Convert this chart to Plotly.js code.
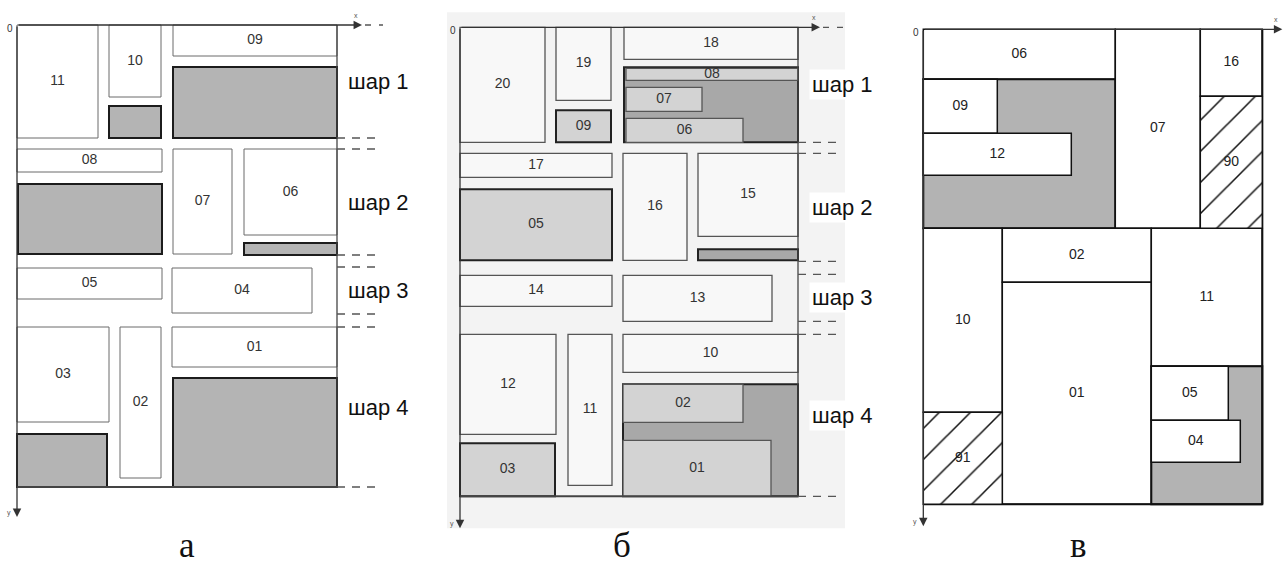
<!DOCTYPE html>
<html>
<head>
<meta charset="utf-8">
<script src="https://cdn.plot.ly/plotly-3.0.1.min.js"></script>
<style>
html,body{margin:0;padding:0;background:#fff;}
#plot{width:1288px;height:566px;}
</style>
</head>
<body>
<div id="plot"></div>
<script>
// ===== Panel а : blocks (diagram units, origin top-left, y downwards) =====
const aLabels = ['11','10','','09','','08','','07','06','','05','04','03','02','01','',''];
const aX0 = [0,92,92,156,156,0,1,156,227,227,0,155,0,103,155,156,0];
const aX1 = [81,144,144,320,320,145,145,215,320,320,145,295,92,144,320,320,90];
const aY0 = [0,0,81,0,42,124,159,124,124,218,243,243,302,302,302,353,409];
const aY1 = [113,72,113,31,113,147,229,229,210,230,274,288,397,453,342,462,462];
const aKind = ['w','w','g','w','g','w','g','w','w','g','w','w','w','w','w','g','g'];
const aLayerTop = [0,124,242,302];
const aLayerBottom = [113,230,289,462];
const aLayerNames = ['шар 1','шар 2','шар 3','шар 4'];

// ===== Panel б =====
const bLabels = ['20','19','09','18','','08','07','06','17','05','16','15','','14','13','12','11','10','','02','01','03'];
const bX0 = [0,96,96,164,164,166,166,166,0,0,163,238,238,0,163,0,108,163,163,163,163,0];
const bX1 = [85,151,151,338,338,338,242,283,152,152,227,338,338,152,312,96,152,338,338,283,311,95];
const bY0 = [0,0,83,0,40,41,60,91,126,162,126,126,222,248,248,307,307,307,357,357,413,416];
const bY1 = [115,73,115,32,115,53,84,115,150,233,233,209,233,279,294,407,458,345,469,395,469,469];
const bKind = ['w','w','L','w','d','l','l','l','w','L','w','w','d','w','w','w','w','w','d','l','l','L'];
const bLayerTop = [0,126,247,307];
const bLayerBottom = [115,234,294,469];
const bLayerNames = ['шар 1','шар 2','шар 3','шар 4'];

// ===== Panel в =====
const cLabels = ['06','','09','12','07','16','90','10','91','02','01','11','','05','04'];
const cX0 = [0,0,0,0,192,277,277,0,0,79,79,228,228,228,228];
const cX1 = [192,192,74,148,277,339,339,79,79,228,228,339,339,305,317];
const cY0 = [0,50,50,104,0,0,67,199,383,199,253,199,337,337,391];
const cY1 = [50,199,104,146,199,67,199,383,475,253,475,337,475,391,433];
const cKind = ['w','g','w','w','w','w','h','w','h','w','w','w','g','w','w'];

const captions = ['а','б','в'];

// ===== layout / styling (not data) =====
const W = 1288, H = 566;
const panels = [
  {labels:aLabels,x0:aX0,x1:aX1,y0:aY0,y1:aY1,kind:aKind,
   layerTop:aLayerTop,layerBottom:aLayerBottom,layerNames:aLayerNames,
   origin:[17,25], region:[0,425], frameW:320, frameH:462,
   xArrow:345, yArrow:492, axisDash:[348,366], sideDash:[320,358], layerLabelX:328,
   bg:null, labelBg:'rgba(0,0,0,0)', captionX:170, txt:'#333',
   styles:{w:{fill:'rgba(0,0,0,0)',line:'#6a6a6a',width:1},g:{fill:'#b4b4b4',line:'#1c1c1c',width:2}}},
  {labels:bLabels,x0:bX0,x1:bX1,y0:bY0,y1:bY1,kind:bKind,
   layerTop:bLayerTop,layerBottom:bLayerBottom,layerNames:bLayerNames,
   origin:[460,27.3], region:[425,885], frameW:338, frameH:469,
   xArrow:360, yArrow:501, axisDash:[363,385], sideDash:[338,378], layerLabelX:349,
   bg:[-13,385,-15,501], labelBg:'#ffffff', captionX:162, txt:'#333',
   styles:{w:{fill:'#f8f8f8',line:'#555',width:1.3},l:{fill:'#d3d3d3',line:'#555',width:1.3},
           L:{fill:'#d3d3d3',line:'#222',width:2},d:{fill:'#a8a8a8',line:'#222',width:2}}},
  {labels:cLabels,x0:cX0,x1:cX1,y0:cY0,y1:cY1,kind:cKind,
   layerTop:[],layerBottom:[],layerNames:[],
   origin:[923.3,29.3], region:[885,1288], frameW:339, frameH:475,
   xArrow:359, yArrow:497, axisDash:null, sideDash:null, layerLabelX:0,
   bg:null, labelBg:'rgba(0,0,0,0)', captionX:155, txt:'#222',
   styles:{w:{fill:'#ffffff',line:'#111',width:1.5},g:{fill:'#b3b3b3',line:'#111',width:2},
           h:{fill:'#ffffff',line:'#111',width:1.5}}}
];

const traces = [], shapes = [], annotations = [];
const layout = {
  width:W, height:H, margin:{l:0,r:0,t:0,b:0},
  paper_bgcolor:'#ffffff', plot_bgcolor:'rgba(0,0,0,0)',
  showlegend:false, barmode:'overlay', hovermode:false,
  font:{family:'Liberation Sans, Arial, sans-serif'}
};

panels.forEach((p, i) => {
  const sfx = i === 0 ? '' : String(i+1);
  const xr = 'x'+sfx, yr = 'y'+sfx;
  layout['xaxis'+sfx] = {domain:[p.region[0]/W, p.region[1]/W],
    range:[p.region[0]-p.origin[0], p.region[1]-p.origin[0]],
    visible:false, fixedrange:true, anchor:yr};
  layout['yaxis'+sfx] = {domain:[0,1], range:[H-p.origin[1], -p.origin[1]],
    visible:false, fixedrange:true, anchor:xr};

  if (p.bg) {
    shapes.push({type:'rect', xref:xr, yref:yr, x0:p.bg[0], x1:p.bg[1], y0:p.bg[2], y1:p.bg[3],
      fillcolor:'#f3f3f3', line:{width:0}, layer:'below'});
  }
  // blocks
  const tx = [], ty = [], tt = [];
  p.labels.forEach((lab, k) => {
    const st = p.styles[p.kind[k]];
    if (p.kind[k] === 'h') {
      traces.push({type:'bar', xaxis:xr, yaxis:yr,
        x:[(p.x0[k]+p.x1[k])/2], y:[p.y1[k]-p.y0[k]], base:[p.y0[k]], width:[p.x1[k]-p.x0[k]],
        marker:{color:'#ffffff', line:{color:st.line, width:st.width},
          pattern:{shape:'/', size:22, solidity:0.07, fgcolor:'#111', bgcolor:'#ffffff', fillmode:'replace'}},
        hoverinfo:'skip'});
    } else {
      shapes.push({type:'rect', xref:xr, yref:yr, x0:p.x0[k], x1:p.x1[k], y0:p.y0[k], y1:p.y1[k],
        fillcolor:st.fill, line:{color:st.line, width:st.width}, layer:'below'});
    }
    if (lab) {
      tx.push((p.x0[k]+p.x1[k])/2); ty.push((p.y0[k]+p.y1[k])/2); tt.push(lab);
    }
  });
  traces.push({type:'scatter', mode:'text', xaxis:xr, yaxis:yr, x:tx, y:ty, text:tt,
    textfont:{family:'Liberation Sans, Arial, sans-serif', size:14, color:p.txt}, hoverinfo:'skip'});

  const lineCol = i === 2 ? '#111' : '#444';
  // frame right & bottom
  shapes.push({type:'line', xref:xr, yref:yr, x0:p.frameW, x1:p.frameW, y0:0, y1:p.frameH,
    line:{color:lineCol, width:i===2?2:1.3}, layer:'below'});
  shapes.push({type:'line', xref:xr, yref:yr, x0:0, x1:p.frameW, y0:p.frameH, y1:p.frameH,
    line:{color:lineCol, width:2}, layer:'below'});

  // axes arrows
  annotations.push({xref:xr, yref:yr, axref:xr, ayref:yr, x:p.xArrow, y:0, ax:0, ay:0, text:'',
    showarrow:true, arrowhead:2, arrowsize:1.3, arrowwidth:1.3, arrowcolor:'#333', standoff:0});
  annotations.push({xref:xr, yref:yr, axref:xr, ayref:yr, x:0, y:p.yArrow, ax:0, ay:0, text:'',
    showarrow:true, arrowhead:2, arrowsize:1.3, arrowwidth:1.3, arrowcolor:'#333', standoff:0});
  annotations.push({xref:xr, yref:yr, x:-7, y:3, text:'0', showarrow:false,
    font:{size:10, color:'#333'}});
  annotations.push({xref:xr, yref:yr, x:p.xArrow-6, y:-10, text:'x', showarrow:false,
    font:{size:7, color:'#555'}});
  annotations.push({xref:xr, yref:yr, x:-8, y:p.yArrow-4, text:'y', showarrow:false,
    font:{size:7, color:'#555'}});
  if (p.axisDash) {
    shapes.push({type:'line', xref:xr, yref:yr, x0:p.axisDash[0], x1:p.axisDash[1], y0:0, y1:0,
      line:{color:'#555', width:1.3, dash:'6px,8px'}});
  }
  // layer boundary dashes
  if (p.sideDash) {
    const ys = [];
    p.layerBottom.forEach(v => ys.push(v));
    p.layerTop.forEach(v => { if (v > 0) ys.push(v); });
    ys.forEach(v => {
      shapes.push({type:'line', xref:xr, yref:yr, x0:p.sideDash[0], x1:p.sideDash[1], y0:v, y1:v,
        line:{color:'#555', width:1.3, dash:'8px,7px'}});
    });
  }
  // layer labels
  p.layerNames.forEach((nm, k) => {
    annotations.push({xref:xr, yref:yr, x:p.layerLabelX, y:(p.layerTop[k]+p.layerBottom[k])/2,
      xanchor:'left', yanchor:'middle', text:nm, showarrow:false, bgcolor:p.labelBg, borderpad:2,
      font:{family:'Liberation Sans, Arial, sans-serif', size:22, color:'#111'}});
  });
  // caption (anchored to bottom of the figure)
  annotations.push({xref:xr, yref:'paper', x:p.captionX, y:0, text:captions[i], showarrow:false,
    xanchor:'center', yanchor:'bottom', borderpad:0,
    font:{family:'Liberation Serif, Times New Roman, serif', size:35, color:'#111'}});
});

layout.shapes = shapes;
layout.annotations = annotations;
Plotly.newPlot('plot', traces, layout, {staticPlot:true, displayModeBar:false});
</script>
</body>
</html>
